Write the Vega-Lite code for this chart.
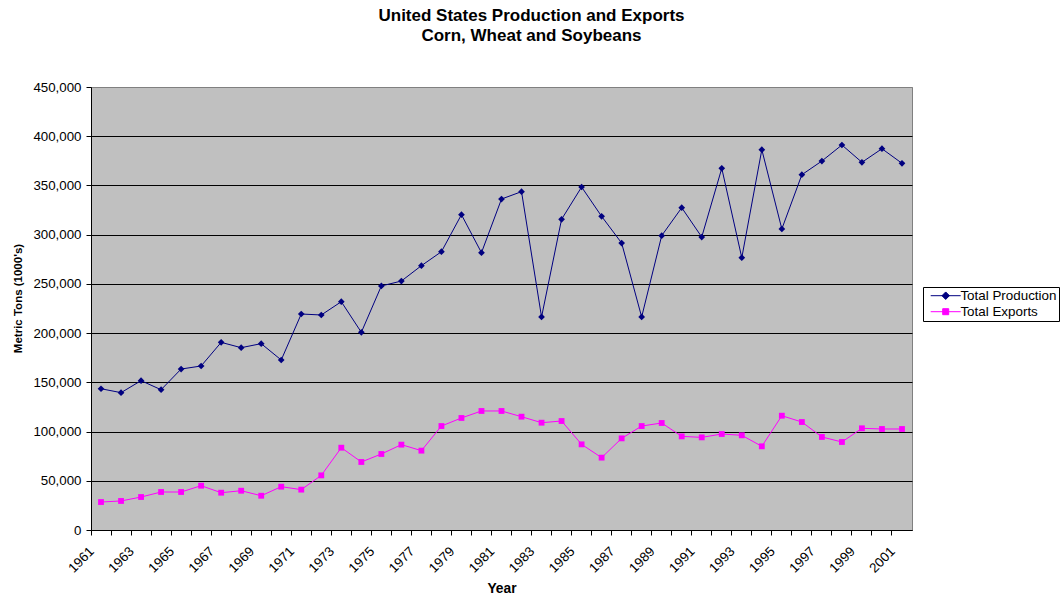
{
  "$schema": "https://vega.github.io/schema/vega-lite/v6.json",
  "autosize": {"type": "none"},
  "width": 821,
  "height": 443,
  "padding": {"left": 91, "top": 87, "right": 150, "bottom": 65},
  "background": "white",
  "title": {
    "text": ["United States Production and Exports", "Corn, Wheat and Soybeans"],
    "font": "Liberation Sans",
    "fontSize": 17,
    "fontWeight": "bold",
    "lineHeight": 20,
    "color": "black",
    "anchor": "middle",
    "dx": 30,
    "offset": 35
  },
  "datasets": {
    "rows": [
      {"year": 1961, "series": "Total Production", "value": 143500},
      {"year": 1962, "series": "Total Production", "value": 139500},
      {"year": 1963, "series": "Total Production", "value": 151700},
      {"year": 1964, "series": "Total Production", "value": 142500},
      {"year": 1965, "series": "Total Production", "value": 163500},
      {"year": 1966, "series": "Total Production", "value": 166600},
      {"year": 1967, "series": "Total Production", "value": 190600},
      {"year": 1968, "series": "Total Production", "value": 185200},
      {"year": 1969, "series": "Total Production", "value": 189300},
      {"year": 1970, "series": "Total Production", "value": 172700},
      {"year": 1971, "series": "Total Production", "value": 219400},
      {"year": 1972, "series": "Total Production", "value": 218400},
      {"year": 1973, "series": "Total Production", "value": 231900},
      {"year": 1974, "series": "Total Production", "value": 200800},
      {"year": 1975, "series": "Total Production", "value": 247900},
      {"year": 1976, "series": "Total Production", "value": 252900},
      {"year": 1977, "series": "Total Production", "value": 268500},
      {"year": 1978, "series": "Total Production", "value": 282700},
      {"year": 1979, "series": "Total Production", "value": 320300},
      {"year": 1980, "series": "Total Production", "value": 281700},
      {"year": 1981, "series": "Total Production", "value": 336200},
      {"year": 1982, "series": "Total Production", "value": 343700},
      {"year": 1983, "series": "Total Production", "value": 216400},
      {"year": 1984, "series": "Total Production", "value": 315600},
      {"year": 1985, "series": "Total Production", "value": 348400},
      {"year": 1986, "series": "Total Production", "value": 318600},
      {"year": 1987, "series": "Total Production", "value": 291500},
      {"year": 1988, "series": "Total Production", "value": 216400},
      {"year": 1989, "series": "Total Production", "value": 299000},
      {"year": 1990, "series": "Total Production", "value": 327400},
      {"year": 1991, "series": "Total Production", "value": 297600},
      {"year": 1992, "series": "Total Production", "value": 367400},
      {"year": 1993, "series": "Total Production", "value": 276600},
      {"year": 1994, "series": "Total Production", "value": 386300},
      {"year": 1995, "series": "Total Production", "value": 305800},
      {"year": 1996, "series": "Total Production", "value": 360900},
      {"year": 1997, "series": "Total Production", "value": 374800},
      {"year": 1998, "series": "Total Production", "value": 391100},
      {"year": 1999, "series": "Total Production", "value": 373500},
      {"year": 2000, "series": "Total Production", "value": 387300},
      {"year": 2001, "series": "Total Production", "value": 372500},
      {"year": 1961, "series": "Total Exports", "value": 28400},
      {"year": 1962, "series": "Total Exports", "value": 29500},
      {"year": 1963, "series": "Total Exports", "value": 33500},
      {"year": 1964, "series": "Total Exports", "value": 38600},
      {"year": 1965, "series": "Total Exports", "value": 38600},
      {"year": 1966, "series": "Total Exports", "value": 45000},
      {"year": 1967, "series": "Total Exports", "value": 37900},
      {"year": 1968, "series": "Total Exports", "value": 39900},
      {"year": 1969, "series": "Total Exports", "value": 34800},
      {"year": 1970, "series": "Total Exports", "value": 44000},
      {"year": 1971, "series": "Total Exports", "value": 41000},
      {"year": 1972, "series": "Total Exports", "value": 55500},
      {"year": 1973, "series": "Total Exports", "value": 83600},
      {"year": 1974, "series": "Total Exports", "value": 69100},
      {"year": 1975, "series": "Total Exports", "value": 77200},
      {"year": 1976, "series": "Total Exports", "value": 86700},
      {"year": 1977, "series": "Total Exports", "value": 80600},
      {"year": 1978, "series": "Total Exports", "value": 105600},
      {"year": 1979, "series": "Total Exports", "value": 113800},
      {"year": 1980, "series": "Total Exports", "value": 120900},
      {"year": 1981, "series": "Total Exports", "value": 120900},
      {"year": 1982, "series": "Total Exports", "value": 115100},
      {"year": 1983, "series": "Total Exports", "value": 109000},
      {"year": 1984, "series": "Total Exports", "value": 110700},
      {"year": 1985, "series": "Total Exports", "value": 87000},
      {"year": 1986, "series": "Total Exports", "value": 73500},
      {"year": 1987, "series": "Total Exports", "value": 93100},
      {"year": 1988, "series": "Total Exports", "value": 105600},
      {"year": 1989, "series": "Total Exports", "value": 108700},
      {"year": 1990, "series": "Total Exports", "value": 95100},
      {"year": 1991, "series": "Total Exports", "value": 94100},
      {"year": 1992, "series": "Total Exports", "value": 97500},
      {"year": 1993, "series": "Total Exports", "value": 96200},
      {"year": 1994, "series": "Total Exports", "value": 85000},
      {"year": 1995, "series": "Total Exports", "value": 116100},
      {"year": 1996, "series": "Total Exports", "value": 109700},
      {"year": 1997, "series": "Total Exports", "value": 94500},
      {"year": 1998, "series": "Total Exports", "value": 89400},
      {"year": 1999, "series": "Total Exports", "value": 103300},
      {"year": 2000, "series": "Total Exports", "value": 102600},
      {"year": 2001, "series": "Total Exports", "value": 102600}
    ]
  },
  "data": {"name": "rows"},
  "encoding": {
    "x": {
      "field": "year",
      "type": "ordinal",
      "scale": {"type": "band", "paddingInner": 0, "paddingOuter": 0},
      "axis": {
        "title": "Year",
        "bandPosition": 0,
        "labelAngle": -45,
        "labelAlign": "right",
        "labelBaseline": "middle",
        "labelOffset": -9,
        "labelPadding": 14,
        "labelOverlap": false,
        "labelFontSize": 13.4,
        "labelExpr": "datum.value % 2 == 1 ? datum.label : ''",
        "titleY": 62,
        "titleBaseline": "alphabetic",
        "titleFontSize": 13.8,
        "grid": false
      }
    },
    "y": {
      "field": "value",
      "type": "quantitative",
      "scale": {"domain": [0, 450000], "nice": false, "zero": true},
      "axis": {
        "title": "Metric Tons (1000's)",
        "values": [0, 50000, 100000, 150000, 200000, 250000, 300000, 350000, 400000, 450000],
        "format": ",d",
        "grid": true,
        "gridColor": {"condition": {"test": "datum.value === 450000", "value": "#808080"}, "value": "#000000"},
        "labelPadding": 5,
        "labelFontSize": 13.3,
        "titleFontSize": 11.5,
        "titleX": -73,
        "titleY": 211,
        "titleAngle": -90,
        "titleAlign": "center",
        "titleBaseline": "middle"
      }
    },
    "color": {
      "field": "series",
      "type": "nominal",
      "scale": {"domain": ["Total Production", "Total Exports"], "range": ["#000080", "#FF00FF"]},
      "legend": {
        "title": null,
        "orient": "none",
        "legendX": 832,
        "legendY": 200,
        "padding": 2,
        "rowPadding": 1,
        "strokeColor": "#000000",
        "fillColor": "#FFFFFF",
        "labelFontSize": 13.4,
        "labelColor": "#000000",
        "labelFont": "Liberation Sans",
        "symbolSize": 36,
        "symbolOffset": 14,
        "labelOffset": 8,
        "encode": {
          "symbols": {
            "update": {
              "shape": {"signal": "datum.value === 'Total Production' ? 'M-5,0L5,0M0,-1.25L1.25,0L0,1.25L-1.25,0Z' : 'M-5,0L5,0M-1,-1L1,-1L1,1L-1,1Z'"},
              "fill": {"signal": "datum.value === 'Total Production' ? '#000080' : '#FF00FF'"},
              "stroke": {"signal": "datum.value === 'Total Production' ? '#000080' : '#FF00FF'"},
              "strokeWidth": {"value": 1},
              "size": {"value": 36},
              "opacity": {"value": 1}
            }
          }
        }
      }
    }
  },
  "layer": [
    {"mark": {"type": "line", "strokeWidth": 1}},
    {
      "transform": [{"filter": "datum.series === 'Total Production'"}],
      "mark": {"type": "point", "shape": "diamond", "filled": true, "opacity": 1, "size": 45}
    },
    {
      "transform": [{"filter": "datum.series === 'Total Exports'"}],
      "mark": {"type": "point", "shape": "square", "filled": true, "opacity": 1, "size": 34}
    }
  ],
  "config": {
    "font": "Liberation Sans",
    "view": {"fill": "#C0C0C0", "stroke": "#808080", "strokeWidth": 1},
    "axis": {
      "domainColor": "#000000",
      "domainWidth": 1,
      "tickColor": "#000000",
      "tickSize": 5,
      "tickWidth": 1,
      "labelFont": "Liberation Sans",
      "labelColor": "#000000",
      "titleFont": "Liberation Sans",
      "titleFontWeight": "bold",
      "titleColor": "#000000",
      "gridWidth": 1
    }
  }
}
